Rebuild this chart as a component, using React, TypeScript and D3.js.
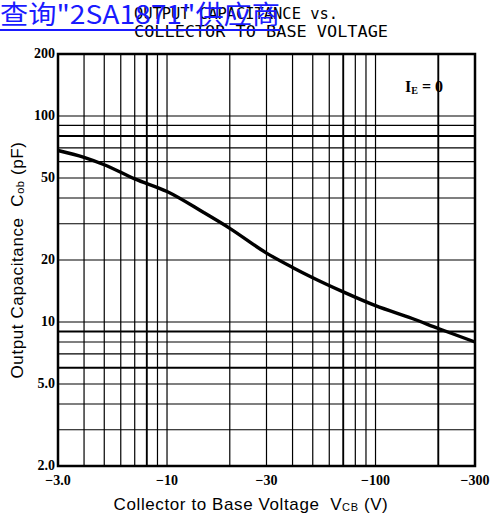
import * as d3 from "d3";

// curve: |V_CB| (V) vs C_ob (pF)
const voltages = [3, 4, 5, 7, 10, 15, 20, 30, 40, 50, 70, 100, 150, 200, 300];
const capacitance = [68, 63, 58, 49.5, 43, 34, 28.5, 21.6, 18.4, 16.4, 14, 12, 10.4, 9.3, 8.0];

const xGrid = [4, 5, 6, 7, 8, 9, 10, 20, 30, 40, 50, 60, 70, 80, 90, 100, 200];
const yGrid = [3, 4, 5, 6, 7, 8, 9, 10, 20, 30, 40, 50, 60, 70, 80, 90, 100];
const xTicks = [3, 10, 30, 100, 300];
const xTickLabels = ["\u22123.0", "\u221210", "\u221230", "\u2212100", "\u2212300"];
const yTicks = [200, 100, 50, 20, 10, 5, 2];
const yTickLabels = ["200", "100", "50", "20", "10", "5.0", "2.0"];

// scan has a few darker grid lines
const heavyX = [8, 70, 200];
const heavyY = [80, 9, 6];

const W = 491;
const H = 521;
const left = 58;
const right = 475;
const top = 54;
const bottom = 466;

const App = () => {
  const x = d3.scaleLog().domain([3, 300]).range([left, right]);
  const y = d3.scaleLog().domain([2, 200]).range([bottom, top]);

  const pts = voltages.map((v, i) => [v, capacitance[i]] as [number, number]);
  const line = d3
    .line<[number, number]>()
    .x((d) => x(d[0]))
    .y((d) => y(d[1]))
    .curve(d3.curveMonotoneX);

  const serif = "'Liberation Serif', 'DejaVu Serif', serif";
  const sans = "'Liberation Sans', Arial, sans-serif";

  return (
    <div style={{ position: "fixed", left: 0, top: 0 }}>
      <svg width={W} height={H} viewBox={`0 0 ${W} ${H}`} style={{ display: "block", background: "#fff" }}>
        {/* title */}
        <g fontFamily="'DejaVu Sans Mono', monospace" fontSize={15} fill="#000">
          <text x={134} y={19} textLength={204} lengthAdjust="spacingAndGlyphs">
            OUTPUT CAPACITANCE vs.
          </text>
          <text x={134} y={37} textLength={254} lengthAdjust="spacingAndGlyphs">
            COLLECTOR TO BASE VOLTAGE
          </text>
        </g>

        {/* grid */}
        <g stroke="#000">
          {xGrid.map((v) => (
            <line
              key={"x" + v}
              x1={x(v)}
              x2={x(v)}
              y1={top}
              y2={bottom}
              strokeWidth={heavyX.includes(v) ? 1.9 : 1.2}
            />
          ))}
          {yGrid.map((v) => (
            <line
              key={"y" + v}
              x1={left}
              x2={right}
              y1={y(v)}
              y2={y(v)}
              strokeWidth={heavyY.includes(v) ? 1.9 : 1.2}
            />
          ))}
          <rect
            x={left}
            y={top}
            width={right - left}
            height={bottom - top}
            fill="none"
            strokeWidth={2.5}
          />
        </g>

        {/* curve */}
        <path d={line(pts) || ""} fill="none" stroke="#000" strokeWidth={3.4} strokeLinejoin="round" />

        {/* tick labels */}
        <g fontFamily={serif} fontWeight="bold" fontSize={14} fill="#000">
          {yTicks.map((v, i) => (
            <text key={"yt" + v} x={left - 3} y={y(v)} dy="0.25em" textAnchor="end">
              {yTickLabels[i]}
            </text>
          ))}
          {xTicks.map((v, i) => (
            <text key={"xt" + v} x={x(v)} y={485} textAnchor="middle">
              {xTickLabels[i]}
            </text>
          ))}
        </g>

        {/* condition */}
        <text x={405} y={92} fontFamily={serif} fontWeight="bold" fontSize={16} fill="#000">
          I
          <tspan fontSize={10} dy={2}>E</tspan>
          <tspan dy={-2}> = 0</tspan>
        </text>

        {/* axis titles */}
        <text
          x={251}
          y={510}
          textAnchor="middle"
          fontFamily={sans}
          fontSize={17}
          letterSpacing={0.6}
          fill="#000"
        >
          Collector to Base Voltage{"\u00a0\u00a0"}V<tspan fontSize={11} dy={1}>CB</tspan>
          <tspan dy={-1}> (V)</tspan>
        </text>
        <text
          transform={`translate(23,260) rotate(-90)`}
          textAnchor="middle"
          fontFamily={sans}
          fontSize={17}
          letterSpacing={0.6}
          fill="#000"
        >
          Output Capacitance{"\u00a0\u00a0"}C<tspan fontSize={11} dy={1}>ob</tspan>
          <tspan dy={-1}> (pF)</tspan>
        </text>

        {/* overlaid link text */}
        <text
          x={0}
          y={24}
          fontFamily="'Noto Sans CJK SC', 'Noto Sans', sans-serif"
          fontSize={26}
          fill="#1a1aff"
          textLength={280}
          lengthAdjust="spacingAndGlyphs"
        >
          查询"2SA1871"供应商
        </text>
        <rect x={0} y={29} width={280} height={2} fill="#1a1aff" />
      </svg>
    </div>
  );
};

export default App;
